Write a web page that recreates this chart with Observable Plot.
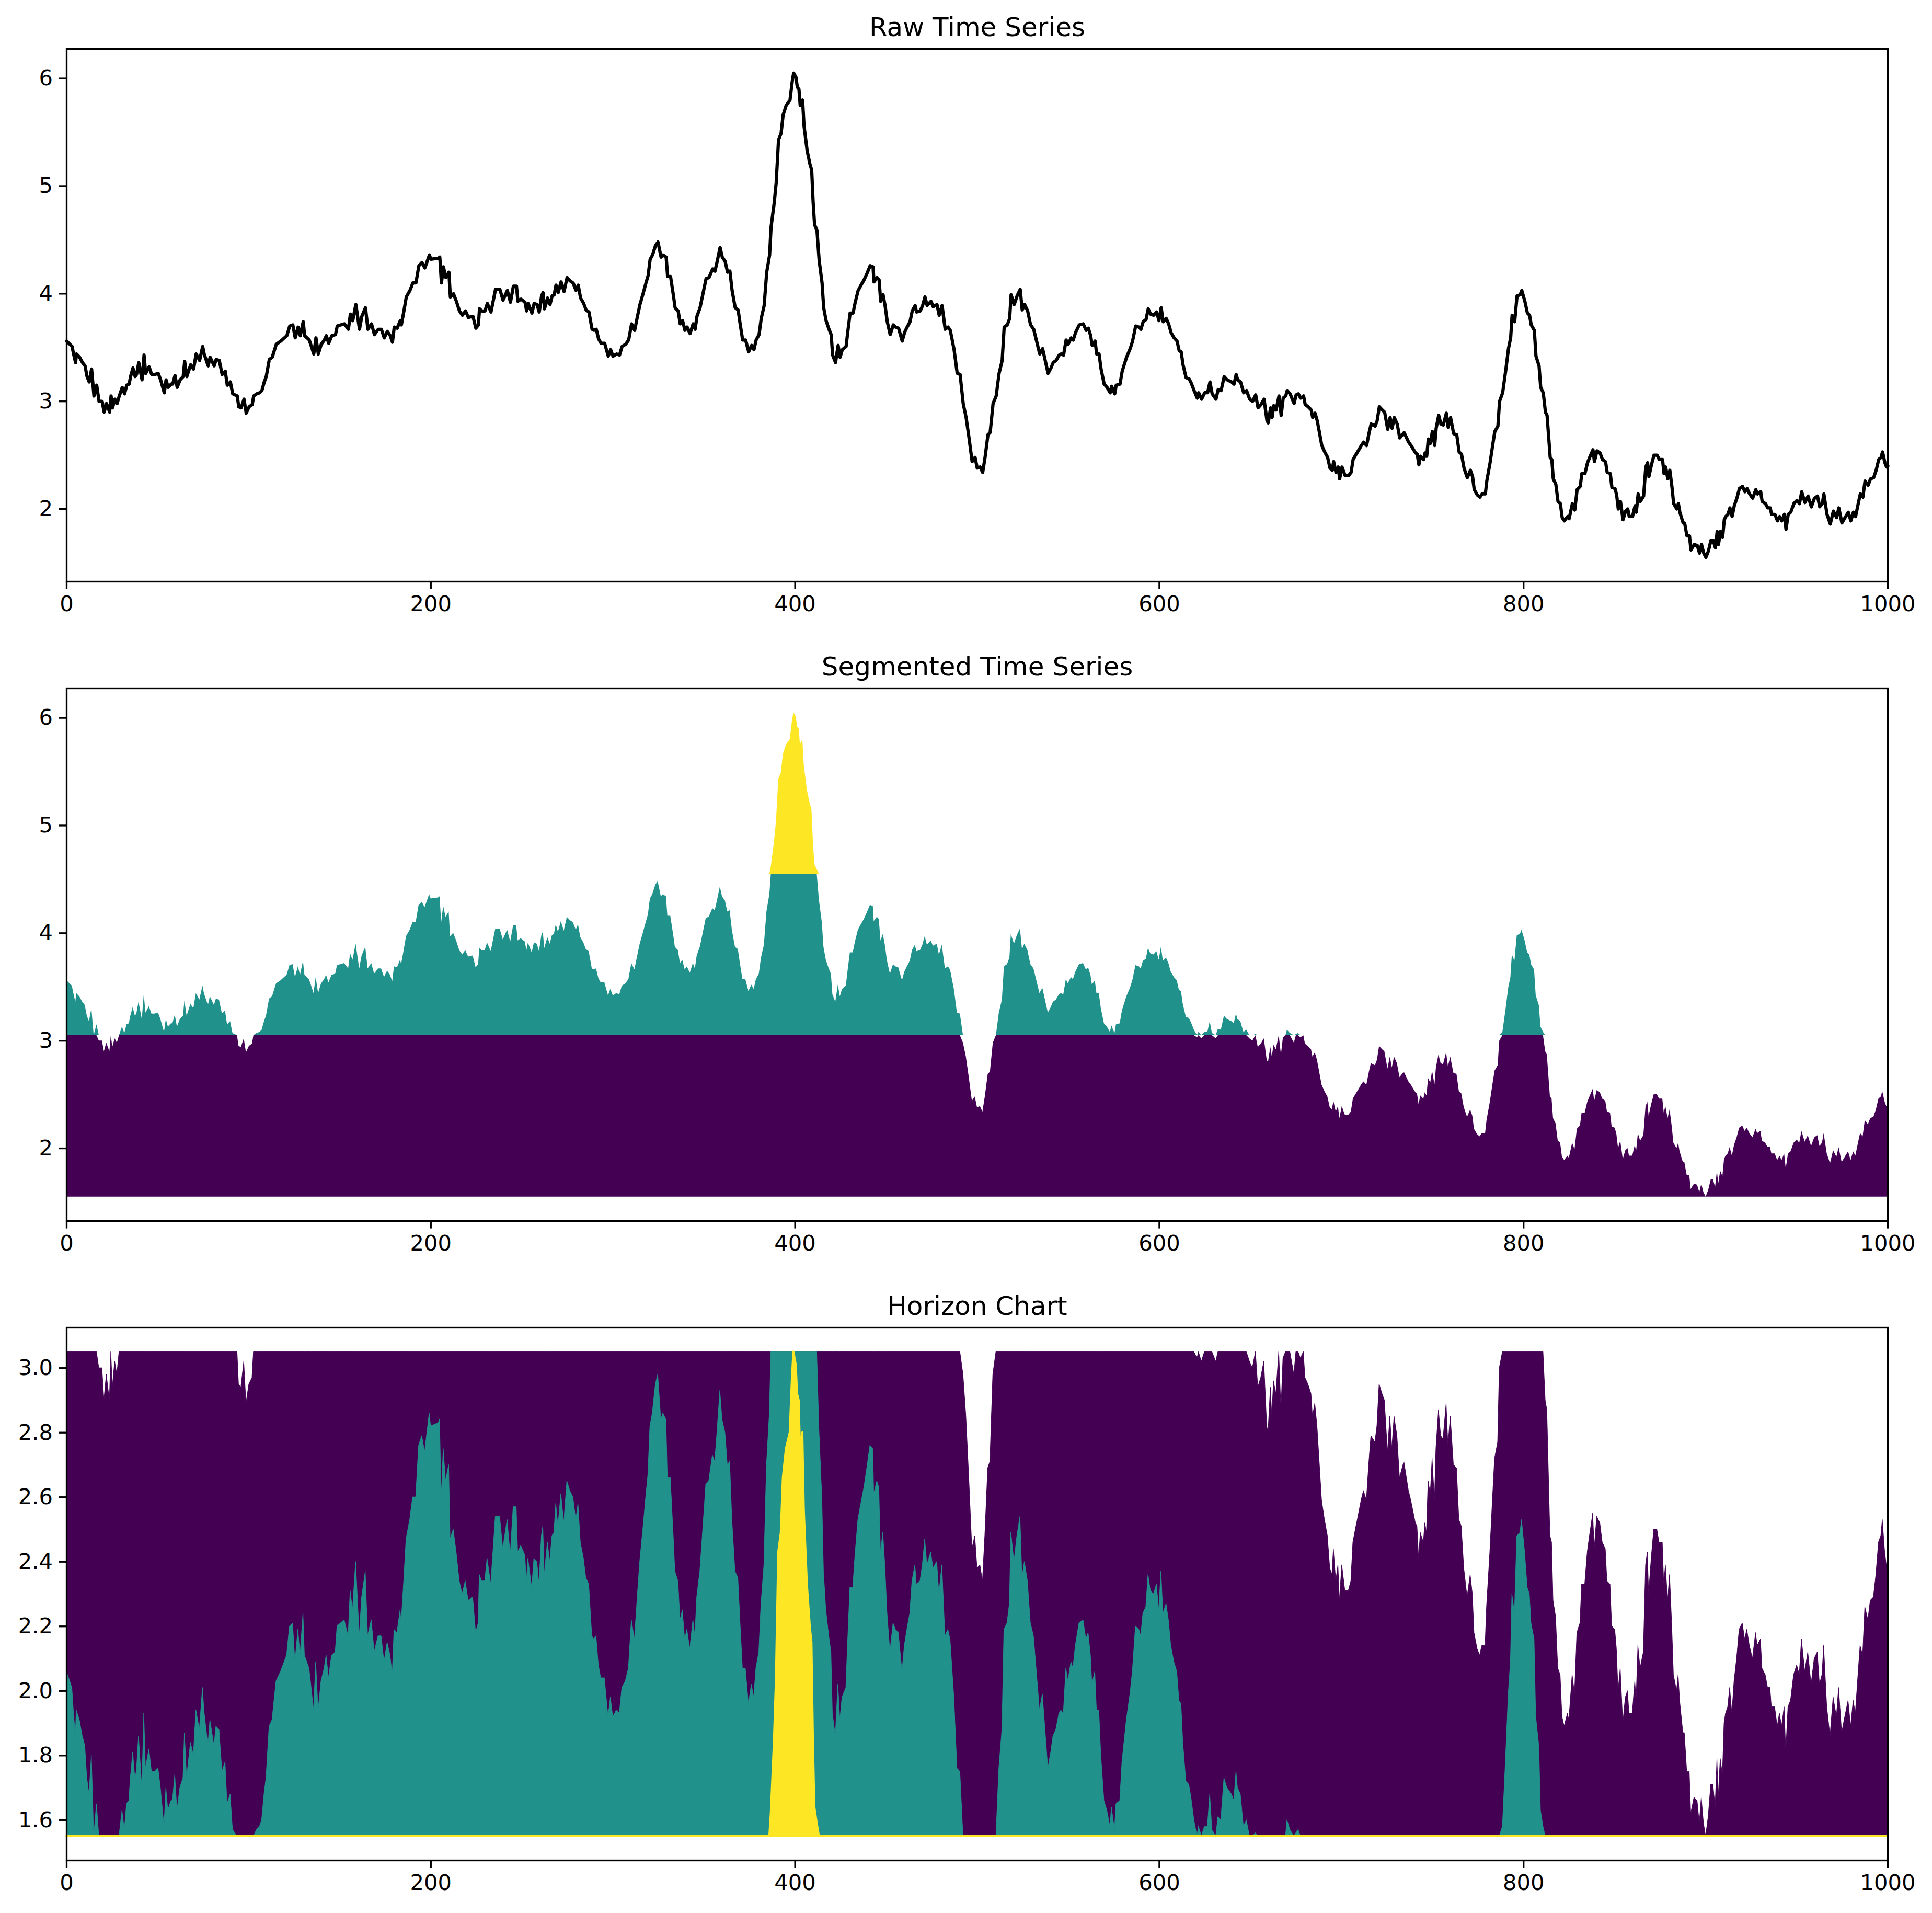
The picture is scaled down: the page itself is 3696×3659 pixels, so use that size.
<!DOCTYPE html>
<html>
<head>
<meta charset="utf-8">
<script src="https://cdn.jsdelivr.net/npm/d3@7"></script>
<script src="https://cdn.jsdelivr.net/npm/@observablehq/plot@0.6"></script>
<style>
  html, body { margin: 0; padding: 0; background: white; }
  #root { width: 3696px; height: 3659px; overflow: hidden; background: white; }
  #root svg { display: block; }
</style>
</head>
<body>
<div id="root"></div>
<script>
// ---- data ----
const titles = ["Raw Time Series", "Segmented Time Series", "Horizon Chart"];
const xTicks = [0, 200, 400, 600, 800, 1000];
const yTicksRaw = [2, 3, 4, 5, 6];
const yTicksHorizon = [1.6, 1.8, 2.0, 2.2, 2.4, 2.6, 2.8, 3.0];
const seriesMin = 1.55;   // lowest value of the series (segment baseline)
const bandWidth = 1.5;    // height of each segment band
const colors = ["#440154", "#21918c", "#fde725"];

// [time, value] readings, in four stretches of the series
const part1 = [
[0,3.56],[3,3.51],[3.8,3.44],[4.9,3.36],[5.4,3.44],[7.1,3.41],[8.7,3.36],[10.1,3.33],[11.2,3.23],[12.4,3.18],
[13.7,3.30],[15,3.05],[16.5,3.15],[17.8,3.00],[19.5,3.00],[20.6,2.90],[21.9,2.98],[23.6,2.90],[24.4,3.05],[25.2,2.94],
[26.5,3.02],[27.7,2.98],[28.9,3.05],[30.5,3.13],[31.8,3.07],[33,3.15],[34.3,3.16],[35.1,3.23],[36.4,3.31],[37.6,3.23],
[38.4,3.25],[39.6,3.36],[41.4,3.20],[42.5,3.43],[43.4,3.26],[45.3,3.32],[46.7,3.25],[48.3,3.25],[50.3,3.26],[51.6,3.20],
[53.6,3.08],[54.6,3.20],[55.7,3.13],[57.4,3.16],[58.2,3.16],[59.5,3.24],[60.7,3.13],[62.3,3.20],[64,3.23],[64.8,3.37],
[66,3.23],[68.1,3.34],[69.7,3.30],[71.1,3.44],[73,3.38],[74.7,3.51],[75.5,3.44],[77.7,3.33],[78.8,3.41],[81,3.33],
[82.1,3.39],[83.8,3.38],[85.4,3.25],[87.1,3.28],[88.2,3.15],[89.9,3.18],[91.2,3.07],[93.7,3.05],[94.5,2.95],[95.8,2.94],
[97.4,3.02],[98.6,2.89],[100.2,2.95],[101.9,2.97],[102.7,3.05],[104.4,3.07],[106,3.08],[107.2,3.10],[108.5,3.18],[109.6,3.23],
[111.3,3.39],[112.9,3.41],[115.1,3.53],[117.6,3.56],[118.9,3.58],[120.9,3.61],[122.5,3.70],[124.2,3.71],[125.5,3.59],[127.1,3.69],
[128.3,3.61],[129.9,3.74],[130.7,3.61],[133.2,3.57],[134.4,3.51],[135.7,3.44],[136.9,3.59],[138.2,3.44],[139.8,3.53],[141.5,3.57],
[142.6,3.61],[143.9,3.54],[145.6,3.61],[147.6,3.62],[148.6,3.70],[150.5,3.71],[152.5,3.72],[154.7,3.67],[155.8,3.81],[157.1,3.75],
[158.8,3.90],[160.8,3.67],[162.1,3.79],[164.1,3.87],[165.4,3.67],[167.4,3.72],[169,3.62],[171.1,3.67],[172.8,3.67],[174.4,3.59],
[176.1,3.65],[177.7,3.61],[178.9,3.55],[179.9,3.69],[181.5,3.68],[183.2,3.75],[183.8,3.71],[185.2,3.84],[186.5,3.97],[188.5,4.03],
[190.1,4.10],[191.8,4.10],[193.4,4.26],[195.1,4.29],[196.7,4.24],[199.2,4.36],[200,4.32],[204.1,4.33],[204.9,4.34],[205.8,4.10],
[206.9,4.25],[208.2,4.15],[209.9,4.20],[210.7,3.97],[212.4,4.00],[214,3.93],[215.7,3.84],[217.3,3.80],[219,3.84],[220.6,3.78],
[223.1,3.79],[224.7,3.68],[226.1,3.71],[226.7,3.86],[228,3.84],[229.7,3.84],[231,3.91],[233,3.83],[235.5,4.04],[237.9,4.04],
[239.6,3.94],[242,4.03],[243.7,3.92],[245.3,4.07],[247,4.07],[247.8,3.93],[249.5,3.95]
];
const part2 = [
[251.7,3.92],[252.6,3.84],[253.4,3.91],[255.5,3.82],[256.7,3.91],[258.3,3.90],[259.5,3.83],[260.8,3.98],[261.6,4.01],[262.4,3.86],
[264.1,3.96],[265.4,3.90],[266.6,3.98],[267.7,3.99],[268.7,4.08],[269.9,4.01],[271.5,4.11],[273.1,4.02],[274.8,4.15],[276.4,4.12],
[278.1,4.10],[279.7,4.03],[280.9,4.08],[282.2,3.96],[283.9,3.91],[285.2,3.85],[286.8,3.83],[288.5,3.67],[289.6,3.66],[290.8,3.67],
[292.1,3.58],[293.4,3.54],[295.4,3.54],[297.4,3.42],[298.7,3.48],[300,3.42],[302,3.44],[303.6,3.43],[305,3.51],[306.9,3.53],
[308.6,3.57],[310.2,3.72],[311.9,3.66],[313.2,3.77],[314.8,3.90],[316.5,4.00],[318.1,4.10],[319.3,4.17],[320.4,4.32],[321.7,4.36],
[323.4,4.45],[324.7,4.48],[326.4,4.34],[327.5,4.36],[329.2,4.34],[330,4.16],[331.6,4.16],[333.3,3.97],[334.1,3.87],[335.8,3.84],
[336.9,3.72],[338.2,3.75],[339.5,3.66],[340.7,3.69],[342.3,3.63],[344,3.72],[345.1,3.67],[346.1,3.79],[347.8,3.87],[349.4,4.00],
[351.1,4.14],[352.7,4.15],[354.7,4.23],[356,4.21],[357.2,4.30],[358.8,4.43],[360,4.34],[361.6,4.30],[362.9,4.20],[364.2,4.21],
[365.4,4.03],[367.1,3.87],[368.7,3.85],[369.9,3.71],[371.2,3.57],[372.8,3.57],[374.5,3.46],[376.1,3.52],[377.4,3.48],[378.6,3.57],
[380.2,3.62],[381.4,3.77],[383,3.89],[384.4,4.20],[386,4.36],[386.8,4.62],[388.5,4.84],[389.6,5.03],[390.9,5.43],[392.3,5.49],
[393.4,5.66],[395.1,5.75],[397.2,5.80],[398.4,5.97],[399.2,6.05],[400.5,6.01],[401.2,5.92],[402.1,5.90],[402.8,5.75],[404.1,5.80],
[404.9,5.56],[406.6,5.33],[408.2,5.20],[409.1,5.15],[409.9,4.85],[410.7,4.64],[412,4.59],[413.2,4.31],[414.8,4.10],[415.7,3.87],
[417,3.75],[418.6,3.67],[419.8,3.62],[420.6,3.43],[422.2,3.36],[423.6,3.52],[424.7,3.41],[425.9,3.48],[428,3.51],[428.8,3.63],
[430.2,3.82],[431.8,3.82],[433,3.92],[434.6,4.03],[436.2,4.08],[437.9,4.13],[439.5,4.19],[441.2,4.26],[442.8,4.25],[443.3,4.11],
[445,4.15],[446.1,4.13],[447,3.93],[448.3,3.99],[449.4,3.89],[450.6,3.74],[452.2,3.62],[453.9,3.71],[455.2,3.69],[456.8,3.68],
[458.8,3.56],[460.1,3.64],[461.5,3.69],[463.1,3.74],[464.3,3.84],[465.9,3.89],[466.7,3.83],[468.7,3.84],[470,3.89],[471.3,3.97],
[472.5,3.89],[474.6,3.93],[475.8,3.88],[477.9,3.90],[479.1,3.80],[480.7,3.89],[482.4,3.67],[484,3.69],[485.2,3.66],[487.3,3.48],
[489,3.26],[490.6,3.25],[492.3,2.98],[493.9,2.85]
];
const part3 = [
[495.5,2.66],[497.2,2.44],[498.8,2.48],[500,2.38],[501.6,2.39],[503,2.34],[504.3,2.48],[505.9,2.69],[507.1,2.71],[508.7,2.98],
[510.4,3.05],[512,3.26],[513.7,3.38],[514.8,3.69],[516.5,3.71],[517.8,3.77],[518.6,3.99],[520.3,3.90],[521.9,3.98],[523.6,4.04],
[524.7,3.85],[526,3.90],[527.7,3.84],[529.3,3.71],[531,3.67],[532.6,3.56],[534.3,3.44],[535.9,3.49],[537.2,3.39],[538.9,3.26],
[540.5,3.31],[541.7,3.36],[543.3,3.38],[545,3.43],[546.1,3.44],[547.4,3.43],[548.8,3.57],[549.9,3.53],[551.6,3.59],[552.7,3.57],
[554,3.64],[556,3.71],[558.2,3.72],[559.8,3.66],[561,3.68],[562.3,3.61],[563.1,3.52],[564.7,3.56],[565.6,3.44],[566.9,3.44],
[568,3.30],[569.7,3.16],[571.3,3.13],[573,3.08],[573.8,3.14],[575.5,3.07],[576.3,3.15],[578.4,3.16],[579.6,3.28],[580.7,3.34],
[582,3.41],[584,3.49],[585.3,3.56],[587,3.70],[588.9,3.69],[589.9,3.67],[591.1,3.74],[592.7,3.76],[593.9,3.86],[595.2,3.81],
[596.9,3.80],[598.5,3.83],[599.8,3.75],[601,3.87],[602.1,3.74],[603.8,3.77],[605.1,3.72],[606.4,3.64],[608.1,3.59],[609.7,3.56],
[610.9,3.47],[612,3.46],[613,3.34],[614.7,3.22],[616.3,3.21],[617.5,3.17],[619.1,3.10],[620.8,3.03],[621.6,3.08],[623.2,3.02],
[624.9,3.08],[626.5,3.08],[627.8,3.18],[629,3.07],[631.1,3.02],[632.3,3.11],[633.9,3.10],[635.6,3.23],[637.2,3.20],[639.7,3.18],
[641,3.16],[642.2,3.25],[643,3.20],[644.6,3.18],[646.3,3.08],[647.9,3.10],[649.6,3.02],[651.2,3.00],[652.9,3.06],[654.2,2.94],
[655.8,2.97],[657.5,3.02],[659.1,2.82],[659.8,2.80],[661.1,2.94],[661.9,2.85],[662.8,2.96],[664.1,2.92],[665.7,3.05],[666.9,2.87],
[668,3.03],[669.4,3.05],[670.2,3.10],[671.8,3.07],[674,2.98],[675.1,3.06],[676.3,3.07],[677.6,3.03],[679.2,3.05],[680.1,2.97],
[681.7,2.95],[683.4,2.92],[684.2,2.85],[685.5,2.89],[686.7,2.82],[687.8,2.72],[689.2,2.59],[690.8,2.53],[692.4,2.48],[693.7,2.38],
[694.9,2.36],[695.7,2.44],[697,2.34],[698.2,2.39],[699,2.28],[700.3,2.39],[702,2.31],[703.9,2.31],[705.3,2.34],[706.4,2.46],
[708.1,2.51],[709.2,2.54],[710.9,2.59],[712.2,2.62],[713.8,2.59],[715.2,2.71],[716.3,2.79],[718.5,2.77],[719.6,2.82],[720.8,2.95],
[722.4,2.92],[723.7,2.90],[725.4,2.74],[726.7,2.85],[727.8,2.75],[729,2.85],[730.6,2.79],[732,2.66],[734.4,2.71],[736.9,2.62]
];
const part4 = [
[738.2,2.59],[740.7,2.52],[741.6,2.51],[742.5,2.41],[743.4,2.49],[745.1,2.46],[745.9,2.52],[746.8,2.49],[747.7,2.65],[748.9,2.61],
[749.9,2.72],[751.2,2.59],[752,2.75],[753.4,2.87],[754.6,2.79],[755.9,2.78],[757.6,2.89],[758.6,2.76],[759.9,2.85],[761.6,2.70],
[763.3,2.69],[764.6,2.53],[765.9,2.51],[767.3,2.38],[769.1,2.29],[770.8,2.36],[772,2.30],[772.9,2.18],[774.6,2.13],[776,2.11],
[777.2,2.14],[779,2.14],[779.8,2.26],[781.6,2.43],[783,2.59],[784.2,2.72],[785.9,2.77],[786.8,3.00],[788.5,3.08],[790.3,3.30],
[791.7,3.49],[792.9,3.59],[793.7,3.80],[795.1,3.74],[796.4,3.98],[798.1,3.99],[799,4.03],[800.7,3.93],[802.1,3.82],[803.3,3.80],
[804.2,3.71],[805.9,3.66],[806.8,3.42],[808.5,3.33],[809.4,3.13],[810.8,3.08],[812,2.90],[812.9,2.87],[814.6,2.48],[815.5,2.46],
[816.3,2.28],[817.7,2.23],[818.9,2.07],[820.2,2.05],[821.2,1.92],[822.4,1.89],[824.2,1.93],[825,1.91],[826.8,2.05],[828.1,1.99],
[829.4,2.18],[831.1,2.21],[832,2.33],[833.7,2.33],[835.1,2.43],[836.3,2.48],[838.1,2.55],[838.9,2.44],[840.3,2.54],[842,2.52],
[843.3,2.46],[845,2.44],[845.9,2.34],[847.6,2.33],[848.5,2.20],[850.2,2.19],[851.1,2.13],[852,2.00],[853.2,2.07],[854.6,1.90],
[856,1.98],[857.2,2.00],[858,1.93],[859.8,1.93],[861.2,2.03],[861.9,1.97],[862.9,2.14],[864.1,2.07],[865.9,2.12],[867.1,2.39],
[868.1,2.43],[868.8,2.30],[870.2,2.41],[871.6,2.50],[873.3,2.50],[874.5,2.46],[876.3,2.46],[877.1,2.33],[878,2.39],[879.2,2.28],
[880.3,2.36],[881.5,2.20],[882.4,2.05],[884.1,2.00],[885,2.05],[885.8,1.97],[887.6,1.87],[888.4,1.87],[889.7,1.75],[891.1,1.75],
[891.9,1.62],[893.7,1.67],[895.4,1.66],[896.6,1.59],[897.7,1.67],[898.9,1.59],[900.1,1.55],[901.5,1.61],[902.9,1.71],[904.1,1.71],
[905.3,1.64],[906.3,1.79],[907,1.67],[908.1,1.79],[909.3,1.74],[910.2,1.90],[911,1.93],[912.2,1.95],[913.3,2.01],[914.5,1.93],
[915.7,2.03],[917.1,2.10],[918.5,2.19],[920.2,2.21],[921.5,2.16],[922.7,2.19],[924.1,2.14],[925.8,2.10],[927.5,2.18],[928.4,2.14],
[930.2,2.16],[931,2.07],[932.8,2.05],[934.1,2.01],[935.4,2.01],[936.2,1.95],[938,1.95],[939.4,1.89],[940.6,1.93],[941.8,1.89],
[943.2,1.95],[944.1,1.81],[945.3,1.95],[946.7,1.97],[948.4,2.05],[950.1,2.08],[951.5,2.05],[952.7,2.16],[954.5,2.06],[956.2,2.12],
[958,2.02],[959.7,2.10],[961.4,2.12],[962.6,2.02],[964,2.05],[964.9,2.14],[966.6,1.95],[968.4,1.86],[970.1,1.98],[971.9,1.92],
[973.1,2.01],[974.8,1.87],[976.5,1.92],[978.3,1.97],[979.7,1.89],[981.1,1.97],[982.3,1.93],[984,2.07],[984.9,2.14],[986.3,2.11],
[987.5,2.26],[989.2,2.22],[990.5,2.28],[992.2,2.29],[993.6,2.36],[995,2.46],[996.3,2.48],[997.1,2.53],[998.4,2.43],[999.3,2.39],
[1000,2.40]
];

// ---- derived table ----
const data = [...part1, ...part2, ...part3, ...part4].map(([x, v]) => ({x, v}));
const t1 = seriesMin + bandWidth;
const t2 = seriesMin + 2 * bandWidth;
const clamp = (v, lo, hi) => Math.max(lo, Math.min(hi, v));

const W = 3696;
const FS = 41.67;
const panel = (title, yDomain, yTicks, fmt, height, marginBottom, marks) => Plot.plot({
  width: W,
  height,
  marginLeft: 127,
  marginRight: 85,
  marginTop: 93,
  marginBottom,
  style: {fontFamily: "DejaVu Sans", fontSize: FS + "px", background: "white", color: "black", display: "block"},
  x: {domain: [0, 1000]},
  y: {domain: yDomain},
  marks: [
    ...marks,
    Plot.frame({stroke: "black", strokeWidth: 3.3}),
    Plot.axisX({ticks: xTicks, tickSize: 14.6, tickPadding: 12, strokeWidth: 3.3, fontSize: FS, label: null, tickFormat: d => String(d)}),
    Plot.axisY({ticks: yTicks, tickSize: 14.6, tickPadding: 12, strokeWidth: 3.3, fontSize: FS, label: null, tickFormat: fmt}),
    Plot.text([title], {frameAnchor: "top", dy: -25, lineAnchor: "bottom", fontSize: 50, fill: "black", text: d => d})
  ]
});

const rawDomain = [1.325, 6.275];
const root = document.getElementById("root");

root.appendChild(panel(titles[0], rawDomain, yTicksRaw, d => String(d), 1223, 111, [
  Plot.lineY(data, {x: "x", y: "v", stroke: "black", strokeWidth: 6.25, strokeLinejoin: "round"})
]));

root.appendChild(panel(titles[1], rawDomain, yTicksRaw, d => String(d), 1223, 111, [
  Plot.areaY(data, {x: "x", y1: seriesMin, y2: d => Math.min(d.v, t1), fill: colors[0]}),
  Plot.areaY(data, {x: "x", y1: t1, y2: d => clamp(d.v, t1, t2), fill: colors[1]}),
  Plot.areaY(data, {x: "x", y1: t2, y2: d => Math.max(d.v, t2), fill: colors[2]})
]));

root.appendChild(panel(titles[2], [1.475, 3.125], yTicksHorizon, d => d.toFixed(1), 1213, 101, [
  Plot.areaY(data, {x: "x", y1: seriesMin, y2: d => Math.min(d.v, t1), fill: colors[0], stroke: colors[0], strokeWidth: 1}),
  Plot.areaY(data, {x: "x", y1: seriesMin, y2: d => clamp(d.v - bandWidth, seriesMin, t1), fill: colors[1], stroke: colors[1], strokeWidth: 1}),
  Plot.areaY(data, {x: "x", y1: seriesMin, y2: d => clamp(d.v - 2 * bandWidth, seriesMin, t1), fill: colors[2], stroke: colors[2], strokeWidth: 4})
]));
</script>
</body>
</html>
